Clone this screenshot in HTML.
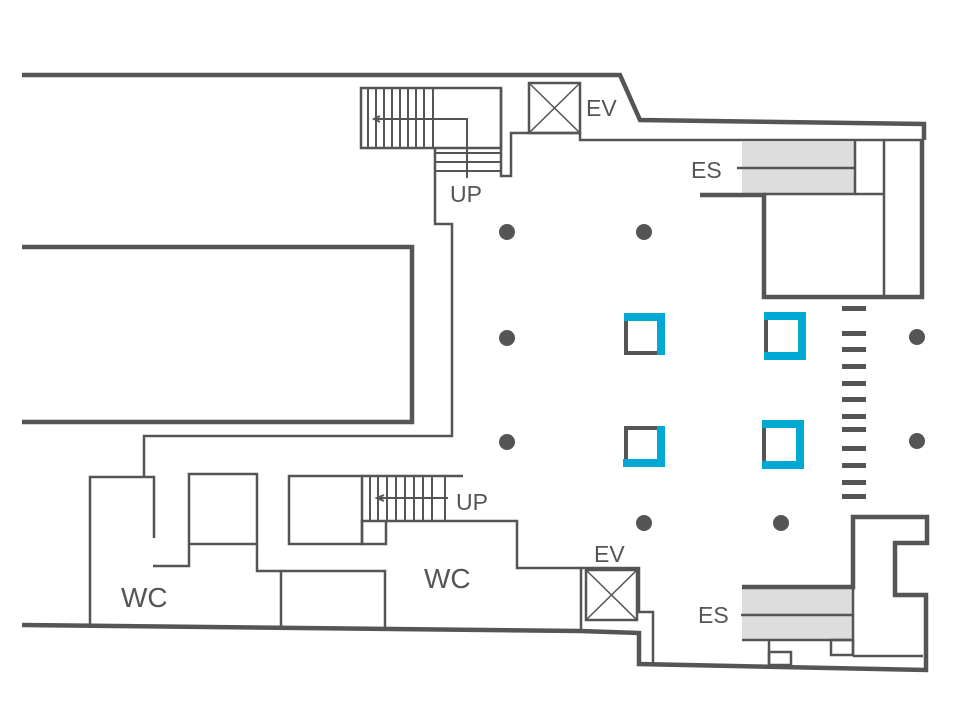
<!DOCTYPE html>
<html><head><style>html,body{margin:0;padding:0;background:#fff}svg{display:block}</style></head>
<body>
<svg width="960" height="720" viewBox="0 0 960 720" xmlns="http://www.w3.org/2000/svg" font-family="Liberation Sans, sans-serif" fill="none" stroke="#555" stroke-width="2.5">
<rect x="742" y="142" width="113" height="51" fill="#dcdddc" stroke="none"/>
<rect x="742" y="589" width="111" height="50" fill="#dcdddc" stroke="none"/>
<g stroke-width="4.5">
<polyline points="22,75 620,75 640,120 924,124 924,140"/>
<polyline points="22,247 412,247 412,422 22,422"/>
<polyline points="700,195 764,195 764,297 922,297 922,140"/>
<polyline points="22,625 580,631 639,633 639,664 926,670 926,595 895,595 895,543 927,543 927,517 853,517 853,587 742,587"/>
</g>
<rect x="361" y="88" width="140" height="60"/>
<g stroke-width="2">
<line x1="368" y1="88" x2="368" y2="148"/><line x1="376" y1="88" x2="376" y2="148"/><line x1="384" y1="88" x2="384" y2="148"/><line x1="392" y1="88" x2="392" y2="148"/><line x1="400" y1="88" x2="400" y2="148"/><line x1="408" y1="88" x2="408" y2="148"/><line x1="416" y1="88" x2="416" y2="148"/><line x1="424" y1="88" x2="424" y2="148"/><line x1="433" y1="88" x2="433" y2="148"/>
<line x1="435" y1="153" x2="500" y2="153"/><line x1="435" y1="162" x2="500" y2="162"/><line x1="435" y1="171" x2="500" y2="171"/>
<polyline points="374,119 467,119 467,178"/>
<polyline points="380,116 374,119 380,122"/>
</g>
<polyline points="435,148 435,224 452,224 452,436 144,436 144,476"/>
<polyline points="501,88 501,176 511,176 511,133 580,133 580,140 922,140"/>
<rect x="529" y="83" width="51" height="50"/>
<line x1="529" y1="83" x2="580" y2="133" stroke-width="1.5"/><line x1="580" y1="83" x2="529" y2="133" stroke-width="1.5"/>
<line x1="737" y1="168" x2="855" y2="168"/>
<line x1="855" y1="140" x2="855" y2="195"/>
<line x1="884" y1="140" x2="884" y2="297"/>
<line x1="764" y1="194" x2="884" y2="194"/>
<polyline points="90,624 90,477 154,477 154,538"/>
<rect x="189" y="474" width="68" height="70"/>
<polyline points="189,544 189,566 153,566"/>
<polyline points="257,544 257,571 385,571 385,628"/>
<line x1="281" y1="571" x2="281" y2="627"/>
<rect x="289" y="476" width="73" height="68"/>
<line x1="362" y1="476" x2="463" y2="476"/>
<g stroke-width="2">
<line x1="370" y1="476" x2="370" y2="521"/><line x1="378" y1="476" x2="378" y2="521"/><line x1="387" y1="476" x2="387" y2="521"/><line x1="396" y1="476" x2="396" y2="521"/><line x1="405" y1="476" x2="405" y2="521"/><line x1="414" y1="476" x2="414" y2="521"/><line x1="423" y1="476" x2="423" y2="521"/><line x1="432" y1="476" x2="432" y2="521"/><line x1="445" y1="476" x2="445" y2="521"/>
<line x1="377" y1="498" x2="448" y2="498"/><polyline points="384,495 377,498 384,501"/>
</g>
<rect x="362" y="521" width="24" height="23"/>
<polyline points="386,521 517,521 517,568 581,568 581,630"/>
<polyline points="581,568 639,568 639,612 653,612 653,663"/>
<rect x="586" y="570" width="51" height="50"/>
<line x1="586" y1="570" x2="637" y2="620" stroke-width="1.5"/><line x1="637" y1="570" x2="586" y2="620" stroke-width="1.5"/>
<line x1="741" y1="615" x2="853" y2="615"/>
<line x1="742" y1="640" x2="853" y2="640"/>
<line x1="853" y1="587" x2="853" y2="656"/>
<line x1="853" y1="656" x2="923" y2="656"/>
<polyline points="769,640 769,665"/>
<rect x="769" y="652" width="22" height="13"/>
<rect x="831" y="640" width="22" height="15"/>
<g fill="#555" stroke="none">
<rect x="842" y="306" width="24" height="5"/><rect x="842" y="331" width="24" height="5"/><rect x="842" y="347" width="24" height="5"/><rect x="842" y="364" width="24" height="5"/><rect x="842" y="381" width="24" height="5"/><rect x="842" y="397" width="24" height="5"/><rect x="842" y="414" width="24" height="5"/><rect x="842" y="427" width="24" height="5"/><rect x="842" y="446" width="24" height="5"/><rect x="842" y="463" width="24" height="5"/><rect x="842" y="480" width="24" height="5"/><rect x="842" y="494" width="24" height="5"/>
<circle cx="507" cy="232" r="8"/><circle cx="644" cy="232" r="8"/><circle cx="507" cy="338" r="8"/><circle cx="917" cy="337" r="8"/><circle cx="507" cy="442" r="8"/><circle cx="917" cy="441" r="8"/><circle cx="644" cy="523" r="8"/><circle cx="781" cy="523" r="8"/>
</g>
<g stroke-width="4">
<rect x="626" y="315" width="36" height="38"/>
<polyline points="624,317 661,317 661,355" stroke="#00a8d4" stroke-width="8"/>
<rect x="766" y="314" width="36" height="44"/>
<polyline points="764,316 802,316 802,356 764,356" stroke="#00a8d4" stroke-width="8"/>
<rect x="626" y="428" width="36" height="37"/>
<polyline points="661,426 661,463 623,463" stroke="#00a8d4" stroke-width="8"/>
<rect x="764" y="423" width="36" height="44"/>
<polyline points="762,424 800,424 800,465 762,465" stroke="#00a8d4" stroke-width="8"/>
</g>
<g fill="#555" stroke="none" font-size="23">
<text x="586" y="116">EV</text>
<text x="450" y="202">UP</text>
<text x="691" y="178">ES</text>
<text x="456" y="510">UP</text>
<text x="121" y="607" font-size="28">WC</text>
<text x="424" y="588" font-size="28">WC</text>
<text x="594" y="562">EV</text>
<text x="698" y="623">ES</text>
</g>
</svg>
</body></html>
